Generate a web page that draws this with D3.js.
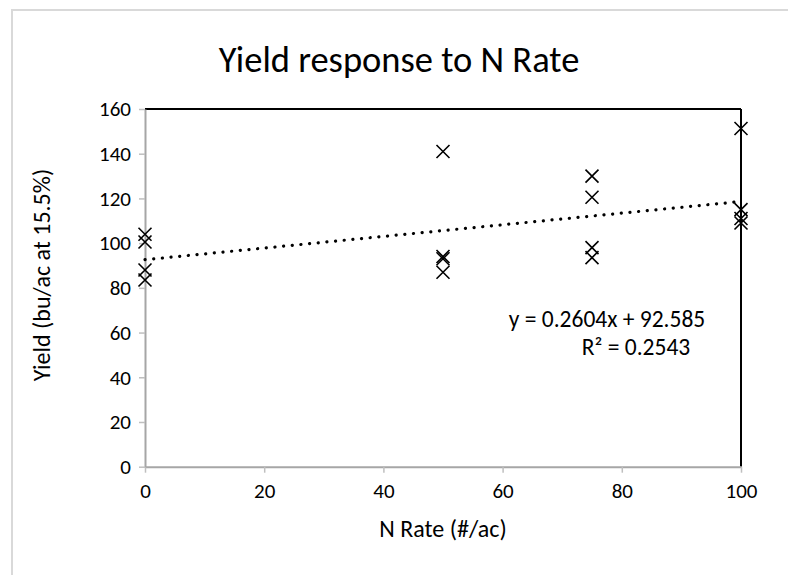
<!DOCTYPE html>
<html><head><meta charset="utf-8">
<script src="https://cdn.jsdelivr.net/npm/d3@7"></script>
<style>
body{margin:0;background:#fff;}
text{font-family:Carlito,Calibri,Lato,"Open Sans",sans-serif;fill:#000;}
</style></head>
<body><svg id="c" width="788" height="575"></svg>
<script>
const nRate = [0,0,0,0, 50,50,50,50, 75,75,75,75, 100,100,100,100];
const yieldVals = [104,100.5,88,83.5, 141,94,93,87, 130,120.5,98,93.5, 151.3,115,111,109];
const xTicks = [0,20,40,60,80,100];
const yTicks = [0,20,40,60,80,100,120,140,160];
const trend = [0.2604, 92.585];
const eqText = ["y = 0.2604x + 92.585", "R² = 0.2543"];
const title = "Yield response to N Rate";
const xTitle = "N Rate (#/ac)";
const yTitle = "Yield (bu/ac at 15.5%)";

const svg = d3.select("#c");
svg.append("rect").attr("x",12).attr("y",10).attr("width",800).attr("height",600)
  .attr("fill","#fff").attr("stroke","#d9d9d9").attr("stroke-width",2);

const L=145,R=741,T=109,B=466.7;
const x = d3.scaleLinear().domain([0,100]).range([L,R]);
const y = d3.scaleLinear().domain([0,160]).range([B,T]);

svg.append("line").attr("x1",L).attr("x2",R).attr("y1",T).attr("y2",T).attr("stroke","#000").attr("stroke-width",2);
svg.append("line").attr("x1",R).attr("x2",R).attr("y1",T).attr("y2",B).attr("stroke","#000").attr("stroke-width",2);

const xa = svg.append("g").attr("transform",`translate(0,${B})`)
  .call(d3.axisBottom(x).tickValues(xTicks).tickSize(6).tickPadding(10).tickSizeOuter(0));
const ya = svg.append("g").attr("transform",`translate(${L},0)`)
  .call(d3.axisLeft(y).tickValues(yTicks).tickSize(6).tickPadding(8).tickSizeOuter(0));
[xa,ya].forEach(a=>{
  a.attr("font-family",null).attr("font-size",null);
  a.select(".domain").attr("stroke","#a6a6a6").attr("stroke-width",2);
  a.selectAll(".tick line").attr("stroke","#bfbfbf").attr("stroke-width",1.5);
  a.selectAll("text").style("font-size","21px").attr("fill","#000");
});

svg.append("path")
  .attr("d", d3.line()([[x(0), y(trend[1])],[x(100), y(trend[1]+trend[0]*100)]]))
  .attr("stroke","#000").attr("stroke-width",3.2).attr("stroke-linecap","round")
  .attr("stroke-dasharray","0.1 8.6").attr("fill","none");

const s=6.5;
svg.append("g").selectAll("path").data(nRate.map((d,i)=>[d,yieldVals[i]])).join("path")
  .attr("d",d=>{const cx=x(d[0]),cy=y(d[1]);return `M${cx-s},${cy-s}L${cx+s},${cy+s}M${cx-s},${cy+s}L${cx+s},${cy-s}`;})
  .attr("stroke","#000").attr("stroke-width",1.6).attr("fill","none");

svg.append("text").attr("x",607).attr("y",327).attr("text-anchor","middle").style("font-size","23.5px").text(eqText[0]);
svg.append("text").attr("x",636).attr("y",355).attr("text-anchor","middle").style("font-size","23.5px").text(eqText[1]);

svg.append("text").attr("x",399).attr("y",72).attr("text-anchor","middle").style("font-size","36.5px").text(title);
svg.append("text").attr("x",443).attr("y",537).attr("text-anchor","middle").style("font-size","24px").text(xTitle);
svg.append("text").attr("transform","translate(50,275) rotate(-90)").attr("text-anchor","middle").style("font-size","24px").text(yTitle);
</script></body></html>
